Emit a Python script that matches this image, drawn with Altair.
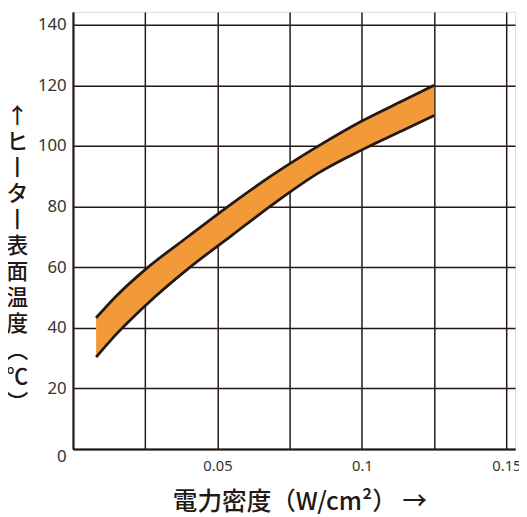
import altair as alt
import pandas as pd

# band edges (x in W/cm², y in °C)
xs =    [0.008, 0.015, 0.025, 0.04, 0.055, 0.07, 0.085, 0.10, 0.115, 0.125]
upper = [43.3, 50.5, 59.2, 70.2, 81.0, 91.0, 100.0, 108.2, 115.3, 120.0]
lower = [30.3, 37.9, 47.3, 59.6, 70.5, 81.3, 91.1, 98.7, 105.5, 110.0]

x_grid = [0, 0.025, 0.05, 0.075, 0.1, 0.125, 0.15]
y_grid = [0, 10, 20, 30, 40, 50, 60, 70, 80, 90, 100, 110, 120, 130, 140]

y_title = ["↑", "ヒ", "丨", "タ", "丨", "表", "面", "温", "度", "︵", "℃", "︶"]
x_title = "電力密度（W/cm²）  →"

df = pd.DataFrame({"x": xs, "upper": upper, "lower": lower})

GRID = "#231815"
FILL = "#F39A38"

xscale = alt.Scale(domain=[0, 0.153], nice=False, zero=False)
yscale = alt.Scale(domain=[0, 144.2], nice=False, zero=False)

xaxis = alt.Axis(
    values=x_grid,
    labelExpr="datum.value > 0 && (round(datum.value*1000) % 50 == 0) ? format(datum.value, '.3~f') : ''",
    grid=True, gridColor=GRID, gridWidth=1.5, gridOpacity=1,
    ticks=False, domain=True, domainColor=GRID, domainWidth=2,
    labelFont="Noto Sans", labelFontSize=15, labelColor="#333333", labelPadding=10,
    title=x_title, titleFont="Noto Sans CJK JP", titleFontSize=25, titleFontWeight=500,
    titleColor="#231815", titleY=53, titleX=230, titleBaseline="middle",
)
yaxis = alt.Axis(
    values=y_grid,
    labelExpr="datum.value % 20 == 0 ? datum.label : ''",
    labelBaseline={"condition": {"test": "datum.value == 0", "value": "top"}, "value": "middle"},
    grid=True, gridColor=GRID, gridWidth=1.5, gridOpacity=1,
    ticks=False, domain=True, domainColor=GRID, domainWidth=2,
    labelFont="Noto Sans", labelFontSize=17, labelColor="#333333", labelPadding=7,
    title=y_title, titleFont="Noto Sans CJK JP", titleFontSize=22, titleFontWeight=500,
    titleColor="#231815", titleAngle=0, titleX=-57, titleY=95, titleAlign="center",
    titleBaseline="top", titleLineHeight=26.5,
)

base = alt.Chart(df)
area = base.mark_area(color=FILL, opacity=1, interpolate="monotone").encode(
    x=alt.X("x:Q", scale=xscale, axis=xaxis),
    y=alt.Y("lower:Q", scale=yscale, axis=yaxis),
    y2="upper:Q",
)
line_up = base.mark_line(color=GRID, strokeWidth=2.8, interpolate="monotone").encode(
    x=alt.X("x:Q", scale=xscale), y=alt.Y("upper:Q", scale=yscale)
)
line_lo = base.mark_line(color=GRID, strokeWidth=2.8, interpolate="monotone").encode(
    x=alt.X("x:Q", scale=xscale), y=alt.Y("lower:Q", scale=yscale)
)

chart = alt.layer(area, line_up, line_lo).properties(
    width=449, height=444,
    autosize=alt.AutoSizeParams(type="none"),
    padding={"left": 66, "top": 0, "right": 4, "bottom": 65},
).configure_view(stroke=None).configure(background="white")

chart.save("out.html", embed_options={"renderer": "svg", "actions": False})
